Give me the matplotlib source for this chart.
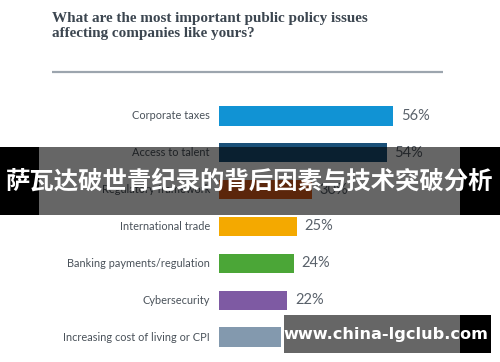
import matplotlib.pyplot as plt
from matplotlib.patches import Rectangle

# survey answers, top to bottom
issues = ["Corporate taxes", "Access to talent", "Regulatory framework",
          "International trade", "Banking payments/regulation",
          "Cybersecurity", "Increasing cost of living or CPI"]
shares = [56, 54, 30, 25, 24, 22, 20]
colors = ["#1193d4", "#1a5078", "#e5601c", "#f4a900",
          "#4ba637", "#7e5aa3", "#8399ae"]

title = "What are the most important public policy issues\naffecting companies like yours?"
banner = "萨瓦达破世青纪录的背后因素与技术突破分析"
watermark = "www.china-lgclub.com"

W, H = 500, 362
fig = plt.figure(figsize=(W / 100, H / 100), dpi=100)
fig.patch.set_facecolor("white")

# bar axes, placed in pixel terms
top, bottom = 97.5, 355.5
left, right = 219, 468
ax = fig.add_axes([left / W, 1 - bottom / H, (right - left) / W, (bottom - top) / H])
ypos = list(range(len(issues)))
ax.barh(ypos, shares, height=0.52, color=colors)
ax.set_xlim(0, 80)
ax.set_ylim(len(issues) - 0.5, -0.5)
ax.axis("off")
for y, lab, v in zip(ypos, issues, shares):
    ax.text(-2.9, y, lab, ha="right", va="center", fontsize=7.9,
            family="Lato", color="#4a525a")
    ax.text(v + 2.4, y, f"{v}%", ha="left", va="center", fontsize=10.5,
            family="Lato", color="#59616a")

# overlay in pixel coordinates
ov = fig.add_axes([0, 0, 1, 1])
ov.set_xlim(0, W)
ov.set_ylim(H, 0)
ov.axis("off")
ov.patch.set_alpha(0)

ov.text(52, 26, title, ha="left", va="center", fontsize=10.9,
        family="Liberation Serif", fontweight="bold", color="#3c4650",
        linespacing=1.25)
ov.plot([52, 443], [72, 72], color="#9ca5ae", lw=1.6, solid_capstyle="butt")

# banner
ov.add_patch(Rectangle((0, 147), W, 68, color="black", alpha=0.6, lw=0))
ov.add_patch(Rectangle((0, 147), 39, 68, color="black", lw=0))
ov.add_patch(Rectangle((460, 147), 40, 68, color="black", lw=0))
ov.text(250, 182, banner, ha="center", va="center", fontsize=17.6,
        family=["Noto Sans CJK SC", "DejaVu Sans"], fontweight="bold",
        color="white")

# watermark
ov.add_patch(Rectangle((284, 315), 176, 38, color="#666666", lw=0))
ov.add_patch(Rectangle((460, 315), 31, 38, color="black", lw=0))
ov.text(386, 335, watermark, ha="center", va="center", fontsize=11.6,
        family="DejaVu Sans", fontweight="bold", color="white")

fig.savefig("out.png", dpi=100)
